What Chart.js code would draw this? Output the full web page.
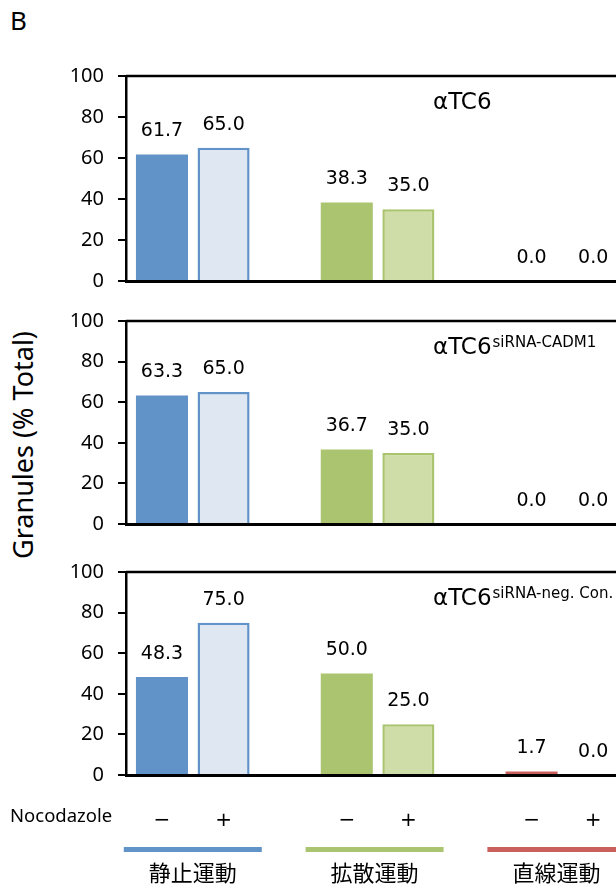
<!DOCTYPE html>
<html>
<head>
<meta charset="utf-8">
<script src="https://cdn.jsdelivr.net/npm/chart.js@4.4.0/dist/chart.umd.min.js"></script>
<style>
  html, body { margin: 0; padding: 0; background: #fff; overflow: hidden; }
  #wrap { position: relative; width: 616px; height: 888px; overflow: hidden; }
  .panel { position: absolute; left: 0; width: 700px; }
  #letter { position: absolute; left: 10px; top: 2px; font: 26px "Noto Sans"; color: #000; }
  #ytitle { position: absolute; left: 22px; top: 445px; transform: translate(-50%, -50%) rotate(-90deg);
            font: 27px "Noto Sans"; white-space: nowrap; color: #000; }
</style>
</head>
<body>
<div id="wrap">
  <div id="letter">B</div>
  <div id="ytitle">Granules (% Total)</div>
  <div class="panel" style="top:0;height:310px"><canvas id="c1"></canvas></div>
  <div class="panel" style="top:293px;height:260px"><canvas id="c2"></canvas></div>
  <div class="panel" style="top:544px;height:344px"><canvas id="c3"></canvas></div>
</div>
<script>
// categories
const groups = ['静止運動', '拡散運動', '直線運動'];
const treatments = ['−', '+'];
const yTicks = [0, 20, 40, 60, 80, 100];

// values per group, Nocodazole − / +
const ctrlMinus = [61.7, 38.3, 0.0];
const ctrlPlus  = [65.0, 35.0, 0.0];
const cadmMinus = [63.3, 36.7, 0.0];
const cadmPlus  = [65.0, 35.0, 0.0];
const negMinus  = [48.3, 50.0, 1.7];
const negPlus   = [75.0, 25.0, 0.0];

const darkCol  = ['#6193c8', '#abc46f', '#c9605b'];
const lightCol = ['#dfe7f3', '#cfdda9', '#f0d2d0'];

function buildPoints(minus, plus) {
    const pts = [];
    groups.forEach((g, gi) => {
        pts.push({ x: gi * 3, y: minus[gi] });
        pts.push({ x: gi * 3 + 1, y: plus[gi] });
    });
    return pts;
}

const barLabels = {
    id: 'barLabels',
    afterDatasetsDraw(chart) {
        const ctx = chart.ctx;
        const area = chart.chartArea;
        const meta = chart.getDatasetMeta(0);
        const pts = chart.data.datasets[0].data;
        ctx.save();
        // top frame line
        ctx.strokeStyle = '#000';
        ctx.lineWidth = 2.5;
        ctx.beginPath();
        ctx.moveTo(area.left, area.top);
        ctx.lineTo(area.right, area.top);
        ctx.stroke();

        ctx.font = '19px "DejaVu Sans"';
        ctx.fillStyle = '#000';
        ctx.textAlign = 'center';
        ctx.textBaseline = 'middle';
        meta.data.forEach((bar, i) => {
            ctx.fillText(pts[i].y.toFixed(1), bar.x, bar.y - 23);
        });

        // panel title with superscript
        const t = chart.options.plugins.barLabels;
        ctx.textAlign = 'left';
        ctx.textBaseline = 'alphabetic';
        ctx.font = '23px "DejaVu Sans"';
        const tx = 433, ty = area.top + 33;
        ctx.fillText(t.main, tx, ty);
        const w = ctx.measureText(t.main).width;
        ctx.font = '15px "DejaVu Sans"';
        ctx.fillText(t.sup, tx + w + 1, ty - 7);

        if (t.bottom) {
            const x = chart.scales.x;
            ctx.font = '18.5px "Noto Sans"';
            ctx.textBaseline = 'middle';
            ctx.fillText('Nocodazole', 10, 273);
            ctx.textAlign = 'center';
            ctx.font = '22px "Noto Sans CJK JP"';
            groups.forEach((g, gi) => {
                const cx = (x.getPixelForValue(gi * 3) + x.getPixelForValue(gi * 3 + 1)) / 2 - gi * 3;
                ctx.fillStyle = darkCol[gi];
                ctx.fillRect(cx - 69, 303, 138, 5);
                ctx.fillStyle = '#000';
                ctx.fillText(g, cx, 329);
            });
        }
        ctx.restore();
    }
};

function makePanel(id, minus, plus, sup, bottom, padTop, padBottom, xHeight) {
    const pts = buildPoints(minus, plus);
    const bg = [], bc = [], bw = [];
    groups.forEach((g, gi) => {
        bg.push(darkCol[gi], lightCol[gi]);
        bc.push(darkCol[gi], darkCol[gi]);
        bw.push(0, 2.5);
    });
    return new Chart(document.getElementById(id), {
        type: 'bar',
        data: {
            datasets: [{
                data: pts,
                backgroundColor: bg,
                borderColor: bc,
                borderWidth: bw,
                barPercentage: 0.845,
                categoryPercentage: 1
            }]
        },
        options: {
            responsive: true,
            maintainAspectRatio: false,
            animation: false,
            layout: { padding: { top: padTop, bottom: padBottom, left: 0, right: 0 } },
            scales: {
                x: {
                    type: 'linear',
                    offset: false,
                    min: -0.584,
                    max: 8.734,
                    afterBuildTicks: (s) => {
                        s.ticks = pts.map(p => ({ value: p.x }));
                    },
                    afterFit: (s) => { s.height = xHeight; },
                    grid: { display: false, drawTicks: true, tickLength: 34 },
                    border: { display: true, color: '#000', width: 3 },
                    ticks: {
                        display: bottom,
                        autoSkip: false,
                        padding: 0,
                        color: '#000',
                        font: { size: 20, family: 'DejaVu Sans' },
                        callback: (v) => treatments[v % 3]
                    }
                },
                y: {
                    min: 0,
                    max: 100,
                    afterBuildTicks: (s) => {
                        s.ticks = yTicks.map(v => ({ value: v }));
                    },
                    afterFit: (s) => { s.width = 126; },
                    grid: { display: true, drawOnChartArea: false, drawTicks: true, tickLength: 8, color: '#000', lineWidth: 2 },
                    border: { display: true, color: '#000', width: 2.5 },
                    ticks: {
                        padding: 14,
                        color: '#000',
                        font: { size: 20, family: 'Noto Sans' }
                    }
                }
            },
            plugins: {
                legend: { display: false },
                tooltip: { enabled: false },
                barLabels: { main: 'αTC6', sup: sup, bottom: bottom }
            }
        },
        plugins: [barLabels]
    });
}

makePanel('c1', ctrlMinus, ctrlPlus, '', false, 76, 19, 10);
makePanel('c2', cadmMinus, cadmPlus, 'siRNA-CADM1', false, 28, 19, 10);
makePanel('c3', negMinus, negPlus, 'siRNA-neg. Con.', true, 28, 53, 60);
</script>
</body>
</html>
